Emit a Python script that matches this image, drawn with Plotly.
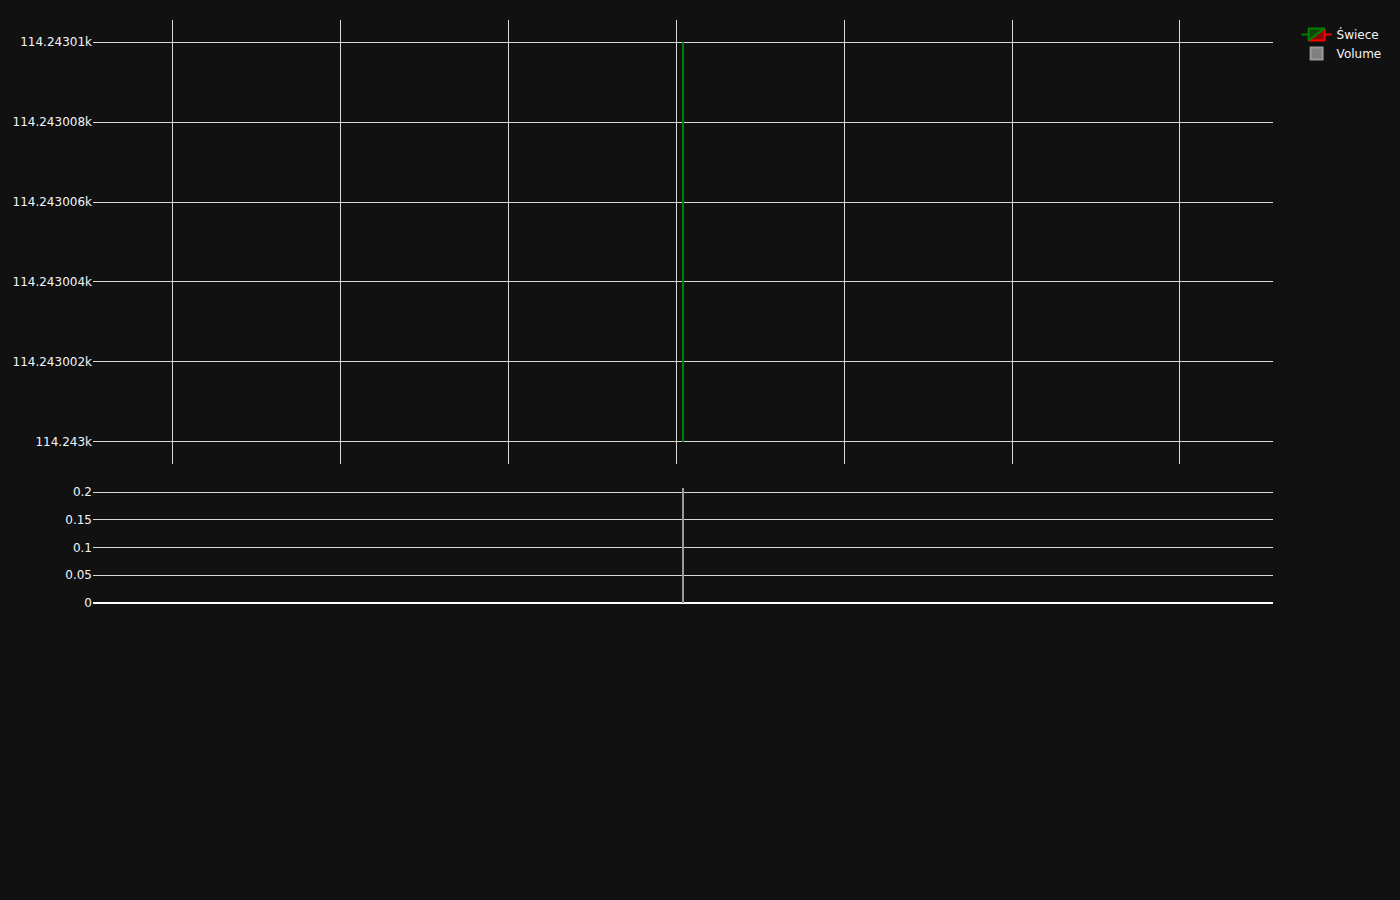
import plotly.graph_objects as go
from plotly.subplots import make_subplots

# Data
times = ["2025-08-14 10:02:30"]
opens = [114243.00]
highs = [114243.01]
lows = [114243.00]
closes = [114243.01]
volumes = [0.2072]

# visible time window
x_window = ["2025-08-14 06:31:47", "2025-08-14 13:33:13"]

fig = make_subplots(rows=2, cols=1, shared_xaxes=True, vertical_spacing=0.04,
                    row_heights=[0.8, 0.2])

fig.add_trace(go.Candlestick(
    x=times, open=opens, high=highs, low=lows, close=closes, name="Świece",
    increasing=dict(line=dict(color="green")),
    decreasing=dict(line=dict(color="red")),
), row=1, col=1)

fig.add_trace(go.Bar(x=times, y=volumes, name="Volume",
                     marker=dict(color="grey", line=dict(color="#9a9a9a", width=2))),
              row=2, col=1)

grid = "#d9d9d9"
fig.update_layout(
    template="plotly_dark",
    width=1400, height=900,
    font=dict(family="DejaVu Sans", size=12, color="#f2f5fa"),
    margin=dict(l=93, r=127, t=20, b=297),
    paper_bgcolor="#111111", plot_bgcolor="#111111",
    xaxis=dict(rangeslider=dict(visible=False), showticklabels=False, gridcolor=grid,
               range=x_window, autorange=False, dtick=3600000,
               tick0="2025-08-14 00:00:00", domain=[0, 1]),
    xaxis2=dict(showgrid=False, showticklabels=False, zeroline=False,
                range=x_window, autorange=False),
    yaxis=dict(gridcolor=grid, domain=[0.2384, 1.0]),
    yaxis2=dict(gridcolor=grid, zerolinecolor="white", zerolinewidth=2, domain=[0, 0.2075]),
)

fig.write_html("out.html")
